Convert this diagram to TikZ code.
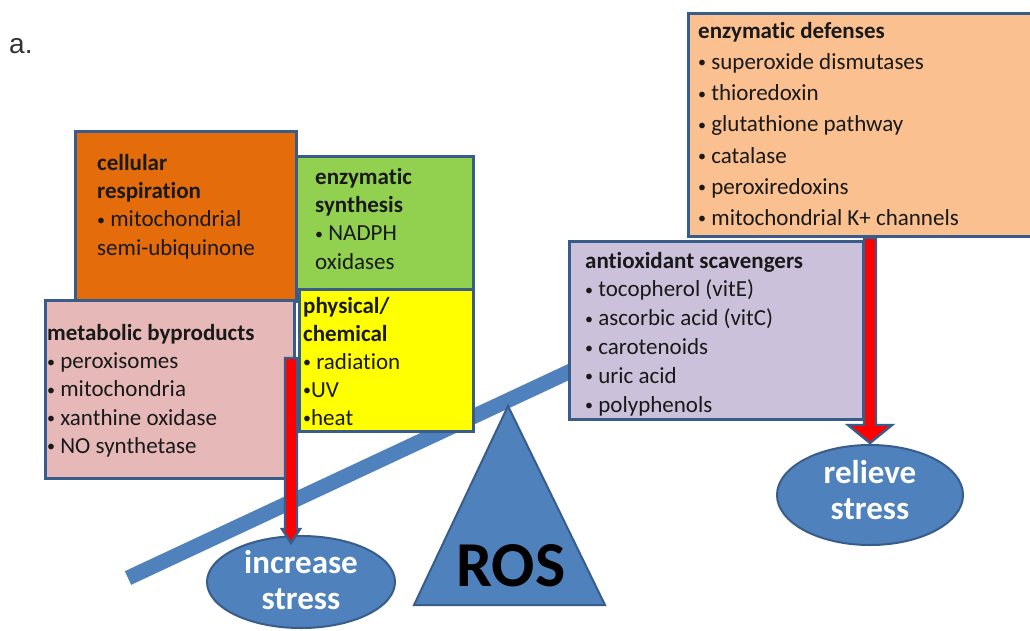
\documentclass[tikz,border=0pt]{standalone}
\usepackage{fontspec}
\setmainfont{Carlito}[Ligatures=NoCommon]
\newfontfamily\arialf{Liberation Sans}
\usetikzlibrary{shapes.geometric,calc}
\definecolor{bord}{HTML}{385D8A}
\definecolor{blueC}{HTML}{4F81BD}
\definecolor{orangeC}{HTML}{E46C0A}
\definecolor{greenC}{HTML}{92D050}
\definecolor{yellowC}{HTML}{FFFF00}
\definecolor{pinkC}{HTML}{E6B9B8}
\definecolor{peachC}{HTML}{FAC090}
\definecolor{lavC}{HTML}{CCC1DA}
\definecolor{redC}{HTML}{FF0000}
\newcommand{\bul}{{\fontsize{16}{16}\selectfont\raisebox{1.5pt}{•}}}
\begin{document}
\begin{tikzpicture}[x=1pt,y=-1pt,
  box/.style={draw=bord, line width=2.6pt, anchor=north west, inner sep=0pt},
  txt/.style={anchor=north west, inner sep=0pt, align=left, text=black!90},
  oval/.style={ellipse, draw=bord, line width=2pt, fill=blueC, inner sep=0pt},
  ovaltxt/.style={align=center, text=white, inner sep=0pt, font=\bfseries\fontsize{33}{36}\selectfont},
  lever/.style={line width=15pt, draw=blueC},
  arrowbody/.style={draw=bord, line width=2.4pt, fill=redC, line join=miter}
]
\useasboundingbox (0,0) rectangle (1030,630);
\fill[white] (0,0) rectangle (1030,630);

% label
\node[anchor=base west, inner sep=0pt, text=black!80, font=\arialf\fontsize{28}{30}\selectfont] (lbl) at (9,53) {a.};

% lever
\coordinate (levL) at (128,578);
\coordinate (levR) at (650,334);
\draw[lever] (levL) -- (levR);

% triangle with ROS
\coordinate (tA) at (508,406);
\coordinate (tL) at (414,605);
\coordinate (tR) at (605,605);
\draw[draw=bord, line width=2pt, fill=blueC, line join=miter] (tA) -- (tR) -- (tL) -- cycle;
\node[inner sep=0pt, font=\bfseries\fontsize{64}{64}\selectfont] (ros) at (511,566) {ROS};

% left boxes
\node[box, fill=orangeC, minimum width=221pt, minimum height=170pt] (resp) at (74,130) {};
\node[box, fill=greenC, minimum width=177pt, minimum height=133pt] (synth) at (295,155) {};
\node[box, fill=yellowC, minimum width=174pt, minimum height=142pt] (phys) at (298,288) {};
\node[box, fill=pinkC, minimum width=249pt, minimum height=178pt] (meta) at (44,299) {};

\node[txt, font=\fontsize{23}{28.3}\selectfont] (resptxt) at (97,150.2)
  {\strut\textbf{cellular}\\\textbf{respiration}\\\bul\ mitochondrial\\semi-ubiquinone};
\node[txt, font=\fontsize{23}{28.3}\selectfont] (synthtxt) at (315,164.2)
  {\strut\textbf{enzymatic}\\\textbf{synthesis}\\\bul\ NADPH\\oxidases};
\node[txt, font=\fontsize{23}{28}\selectfont] (phystxt) at (303,293.4)
  {\strut\textbf{physical/}\\\textbf{chemical}\\\bul\ radiation\\\bul UV\\\bul heat};
\node[txt, font=\fontsize{23}{28.3}\selectfont] (metatxt) at (47,320.2)
  {\strut\textbf{metabolic byproducts}\\\bul\ peroxisomes\\\bul\ mitochondria\\\bul\ xanthine oxidase\\\bul\ NO synthetase};

% right boxes
\node[box, fill=peachC, minimum width=360pt, minimum height=223pt] (enzd) at (687,12) {};
\node[box, fill=lavC, minimum width=294pt, minimum height=178pt] (anti) at (568,240) {};

\node[txt, font=\fontsize{23}{31.2}\selectfont] (enzdtxt) at (698,16.2)
  {\strut\textbf{enzymatic defenses}\\\bul\ superoxide dismutases\\\bul\ thioredoxin\\\bul\ glutathione pathway\\\bul\ catalase\\\bul\ peroxiredoxins\\\bul\ mitochondrial K+ channels};
\node[txt, font=\fontsize{23}{28.8}\selectfont] (antitxt) at (585,247.8)
  {\strut\textbf{antioxidant scavengers}\\\bul\ tocopherol (vitE)\\\bul\ ascorbic acid (vitC)\\\bul\ carotenoids\\\bul\ uric acid\\\bul\ polyphenols};

% ellipses
\node[oval, minimum width=188pt, minimum height=92pt] (inc) at (301,582) {};
\node[ovaltxt] (inctxt) at (301,580) {increase\\stress};
\node[oval, minimum width=186pt, minimum height=100pt] (rel) at (870,495) {};
\node[ovaltxt] (reltxt) at (870,490) {relieve\\stress};

% arrows
\coordinate (la1) at (291,358);
\coordinate (la2) at (291,543);
\draw[arrowbody] ($(la1)+(-6,0)$) -- ($(la2)+(-6,-14)$) -- ($(la2)+(-9,-14)$) -- (la2)
  -- ($(la2)+(9,-14)$) -- ($(la2)+(6,-14)$) -- ($(la1)+(6,0)$) -- cycle;
\coordinate (ra1) at (870,238);
\coordinate (ra2) at (870,443);
\draw[arrowbody] ($(ra1)+(-6,0)$) -- ($(ra2)+(-6,-18)$) -- ($(ra2)+(-22,-18)$) -- (ra2)
  -- ($(ra2)+(22,-18)$) -- ($(ra2)+(6,-18)$) -- ($(ra1)+(6,0)$) -- cycle;
\end{tikzpicture}
\end{document}
